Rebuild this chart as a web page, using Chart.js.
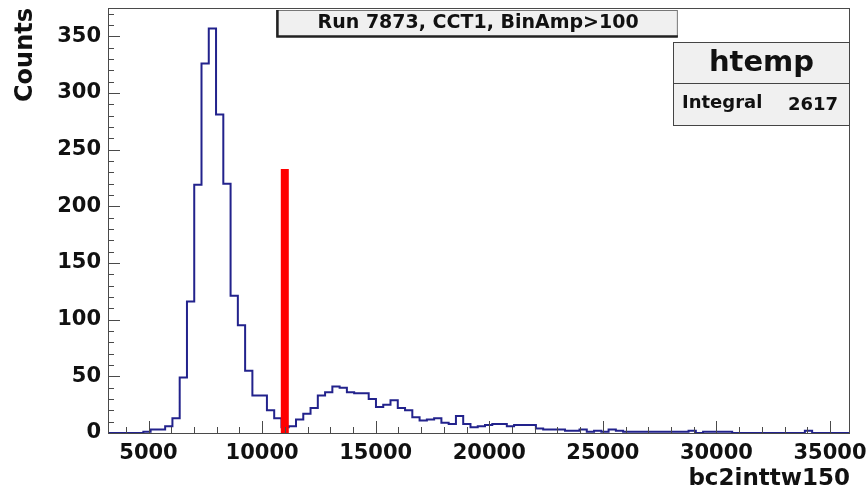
<!DOCTYPE html>
<html>
<head>
<meta charset="utf-8">
<script src="https://cdn.jsdelivr.net/npm/chart.js@4.4.1/dist/chart.umd.min.js"></script>
<style>
  html, body { margin: 0; padding: 0; background: #ffffff; }
  #wrap { width: 868px; height: 493px; }
</style>
</head>
<body>
<div id="wrap"><canvas id="c" width="868" height="493"></canvas></div>
<script>
// ---- data ----
const binStart = 3173;
const binWidth = 320;
const counts = [
  0, 0, 0, 0, 0, 1, 3, 3, 6, 13,
  49, 116, 219, 326, 357, 281, 220, 121, 95, 55,
  33, 33, 20, 13, 5, 6, 12, 17, 22, 33,
  36, 41, 40, 36, 35, 35, 30, 23, 25, 29,
  22, 20, 14, 11, 12, 13, 9, 8, 15, 8,
  5, 6, 7, 8, 8, 6, 7, 7, 7, 4,
  3, 3, 3, 2, 2, 3, 1, 2, 1, 3,
  2, 1, 1, 1, 1, 1, 1, 1, 1, 1,
  2, 0, 1, 1, 1, 1, 0, 0, 0, 0,
  0, 0, 0, 0, 0, 0, 2, 0, 0, 0
];
const xTicks = [5000, 10000, 15000, 20000, 25000, 30000, 35000];
const yTicks = [0, 50, 100, 150, 200, 250, 300, 350];
const xMin = 3217, xMax = 35880;
const yMin = 0, yMax = 375;
const cutValue = 11000;
const cutHeight = 233;
const titleText = 'Run 7873, CCT1, BinAmp>100';
const statsName = 'htemp';
const statsLabel = 'Integral';
const statsValue = '2617';
const xTitle = 'bc2inttw150';
const yTitle = 'Counts';

// histogram outline points (bin lower edges + closing edge)
const histPoints = counts.map((c, i) => ({ x: binStart + i * binWidth, y: c }));
histPoints.push({ x: binStart + counts.length * binWidth, y: 0 });
histPoints.push({ x: xMax, y: 0 });

const FONT = 'DejaVu Sans';
const INK = '#111111';
const AXIS = '#4a4a4a';

const framePlugin = {
  id: 'rootFrame',
  afterDatasetsDraw(chart) {
    const { ctx, chartArea: a, scales } = chart;
    const xs = scales.x, ys = scales.y;
    ctx.save();
    ctx.strokeStyle = AXIS;
    ctx.lineWidth = 1;
    // frame
    ctx.strokeRect(Math.round(a.left) + 0.5, Math.round(a.top) + 0.5,
                   Math.round(a.right - a.left) - 1, Math.round(a.bottom - a.top));
    // y ticks (inward)
    ctx.beginPath();
    const yStep = (yTicks[1] - yTicks[0]) / 5;
    for (let v = yMin; v <= yMax; v += yStep) {
      const py = Math.round(ys.getPixelForValue(v)) + 0.5;
      const major = yTicks.includes(v);
      ctx.moveTo(a.left, py);
      ctx.lineTo(a.left + (major ? 12 : 6), py);
    }
    // x ticks (inward)
    const xStep = (xTicks[1] - xTicks[0]) / 5;
    for (let v = xTicks[0] - xStep; v <= xMax; v += xStep) {
      if (v < xMin) continue;
      const px = Math.round(xs.getPixelForValue(v)) + 0.5;
      const major = xTicks.includes(v);
      ctx.moveTo(px, a.bottom);
      ctx.lineTo(px, a.bottom - (major ? 12 : 6));
    }
    ctx.stroke();
    ctx.restore();
  },
  afterDraw(chart) {
    const { ctx, chartArea: a } = chart;
    const W = a.right - a.left;
    ctx.save();
    // ---- title pave ----
    const tx0 = a.left + W * 0.227, tx1 = a.left + W * 0.768;
    const ty0 = a.top + 2, ty1 = a.top + 29;
    ctx.fillStyle = '#f0f0f0';
    ctx.fillRect(tx0, ty0, tx1 - tx0, ty1 - ty0);
    ctx.strokeStyle = '#777';
    ctx.lineWidth = 1;
    ctx.strokeRect(tx0 + 0.5, ty0 + 0.5, tx1 - tx0 - 1, ty1 - ty0 - 1);
    ctx.strokeStyle = '#222';
    ctx.lineWidth = 2.5;
    ctx.beginPath();
    ctx.moveTo(tx0 + 1, ty0);
    ctx.lineTo(tx0 + 1, ty1 - 0.5);
    ctx.lineTo(tx1, ty1 - 0.5);
    ctx.stroke();
    ctx.fillStyle = INK;
    ctx.font = 'bold 19px "' + FONT + '"';
    ctx.textAlign = 'center';
    ctx.textBaseline = 'middle';
    ctx.fillText(titleText, (tx0 + tx1) / 2 + 1, (ty0 + ty1) / 2);

    // ---- stats box ----
    const sx0 = a.right - 177, sx1 = a.right;
    const sy0 = 42, sy1 = 125, sym = 83;
    ctx.fillStyle = '#f0f0f0';
    ctx.fillRect(sx0, sy0, sx1 - sx0, sy1 - sy0);
    ctx.strokeStyle = '#444';
    ctx.lineWidth = 1;
    ctx.strokeRect(sx0 + 0.5, sy0 + 0.5, sx1 - sx0 - 1, sy1 - sy0);
    ctx.beginPath();
    ctx.moveTo(sx0, sym + 0.5);
    ctx.lineTo(sx1, sym + 0.5);
    ctx.stroke();
    ctx.fillStyle = INK;
    ctx.font = 'bold 29px "' + FONT + '"';
    ctx.textAlign = 'center';
    ctx.fillText(statsName, (sx0 + sx1) / 2, (sy0 + sym) / 2 + 1);
    ctx.font = 'bold 18px "' + FONT + '"';
    ctx.textAlign = 'left';
    ctx.fillText(statsLabel, sx0 + 9, (sym + sy1) / 2 - 1);
    ctx.textAlign = 'right';
    ctx.fillText(statsValue, sx1 - 12, (sym + sy1) / 2 + 1);
    ctx.restore();
  }
};

new Chart(document.getElementById('c'), {
  type: 'line',
  data: {
    datasets: [
      {
        label: 'cut',
        data: [{ x: cutValue, y: 0 }, { x: cutValue, y: cutHeight }],
        borderColor: '#ff0000',
        borderWidth: 8,
        borderCapStyle: 'butt',
        pointRadius: 0,
        fill: false,
        order: 0
      },
      {
        label: 'htemp',
        data: histPoints,
        stepped: 'before',
        borderColor: '#22228c',
        borderWidth: 2,
        pointRadius: 0,
        fill: false,
        order: 1
      }
    ]
  },
  options: {
    responsive: false,
    animation: false,
    devicePixelRatio: 1,
    layout: { padding: { left: 0, right: 18, top: 8, bottom: 0 } },
    plugins: { legend: { display: false }, tooltip: { enabled: false } },
    scales: {
      x: {
        type: 'linear',
        min: xMin,
        max: xMax,
        afterBuildTicks: s => { s.ticks = xTicks.map(v => ({ value: v })); },
        afterFit: s => { s.height = 60; s.paddingLeft = 0; s.paddingRight = 0; },
        grid: { display: false, drawTicks: false },
        border: { display: false },
        ticks: {
          color: INK, padding: 8, maxRotation: 0, autoSkip: false,
          font: { family: FONT, weight: 'bold', size: 21 },
          callback: v => String(v)
        },
        title: {
          display: true, text: xTitle, align: 'end', color: INK,
          font: { family: FONT, weight: 'bold', size: 23 },
          padding: { top: 0, bottom: 0 }
        }
      },
      y: {
        type: 'linear',
        min: yMin,
        max: yMax,
        afterBuildTicks: s => { s.ticks = yTicks.map(v => ({ value: v })); },
        afterFit: s => { s.width = 108; s.paddingTop = 0; s.paddingBottom = 0; },
        grid: { display: false, drawTicks: false },
        border: { display: false },
        ticks: {
          color: INK, padding: 7, autoSkip: false,
          font: { family: FONT, weight: 'bold', size: 21 },
          callback: v => String(v)
        },
        title: {
          display: true, text: yTitle, align: 'end', color: INK,
          font: { family: FONT, weight: 'bold', size: 24 },
          padding: { top: 11, bottom: 0 }
        }
      }
    }
  },
  plugins: [framePlugin]
});
</script>
</body>
</html>
